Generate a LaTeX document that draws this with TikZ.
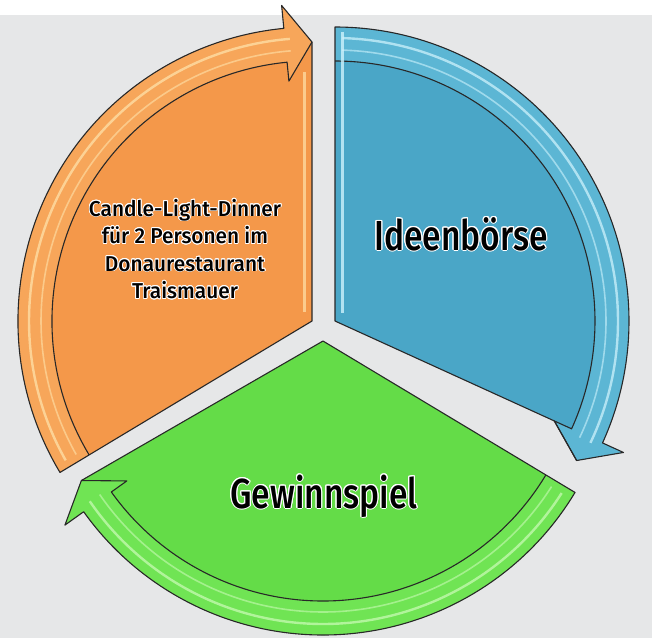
\documentclass[tikz,border=0pt]{standalone}
\usepackage{fontspec}
\usepackage{contour}
\usetikzlibrary{calc}
\newfontfamily\bigfont{Fira Sans Medium}[FakeStretch=0.8]
\newfontfamily\smallfont{Fira Sans Medium}[FakeStretch=0.97]
\definecolor{bg}{RGB}{230,231,232}
\definecolor{outl}{RGB}{40,40,40}
\definecolor{orbody}{RGB}{244,152,74}
\definecolor{orband}{RGB}{247,166,90}
\definecolor{orhl}{RGB}{255,226,170}
\definecolor{blbody}{RGB}{74,166,199}
\definecolor{blband}{RGB}{92,182,212}
\definecolor{blhl}{RGB}{205,242,252}
\definecolor{grbody}{RGB}{100,220,72}
\definecolor{grband}{RGB}{112,228,84}
\definecolor{grhl}{RGB}{200,250,180}
\newcommand{\petal}[8]{%
  \fill[#5] (#1) -- ($(#1)+({#2}:294)$) arc[start angle=#2,end angle=#3,radius=294]
     -- ($(#1)+({#3}:317)$) -- ($(#1)+({#4}:279)$) #8;
  \fill[#6] ($(#1)+({#2}:294)$) arc[start angle=#2,end angle=#3,radius=294]
     -- ($(#1)+({#3}:317)$) -- ($(#1)+({#4}:279)$) -- ($(#1)+({#3}:241)$)
     -- ($(#1)+({#3}:260)$) arc[start angle=#3,end angle=#2,radius=260] -- cycle;
  \draw[#7, line width=2.4pt, opacity=.75] ($(#1)+({#2+1.5}:283)$)
     arc[start angle=#2+1.5,end angle=#3+1,radius=283];
  \draw[#7, line width=1.6pt, opacity=.6] ($(#1)+({#2+1.5}:271)$)
     arc[start angle=#2+1.5,end angle=#3+1,radius=271];
  \draw[outl] (#1) -- ($(#1)+({#2}:294)$) arc[start angle=#2,end angle=#3,radius=294]
     -- ($(#1)+({#3}:317)$) -- ($(#1)+({#4}:279)$) #8;
  \draw[outl] ($(#1)+({#2}:260)$) arc[start angle=#2,end angle=#3,radius=260]
     -- ($(#1)+({#3}:241)$) -- ($(#1)+({#4}:279)$);
}
\begin{document}
\begin{tikzpicture}[x=1pt,y=-1pt,
  outl/.style={draw=outl, line width=1.1pt, line join=round},
  bigtxt/.style={anchor=base, inner sep=0pt, font=\bigfont\fontsize{42}{42}\selectfont},
  smtxt/.style={anchor=base, inner sep=0pt, font=\smallfont\fontsize{21.5}{26}\selectfont}]
\useasboundingbox (0,0) rectangle (652,638);
\fill[white] (0,0) rectangle (652,638);
\fill[bg] (0,15) rectangle (652,638);
\coordinate (B) at (335,321);
\coordinate (G) at (323,341);
\coordinate (O) at (312,321);
% orange
\petal{O}{149}{264.5}{270}{orbody}{orband}{orhl}{-- cycle}
\draw[orhl, line width=3pt, opacity=.7] (304,72) -- (304,312);
% blue
\petal{B}{-90}{24.5}{30}{blbody}{blband}{blhl}{-- ($(B)+(24.5:241)$) -- cycle}
\draw[blhl, line width=3pt, opacity=.8] (342,32) -- (342,313);
% green
\petal{G}{31}{144.5}{150}{grbody}{grband}{grhl}{-- cycle}
% texts
\contourlength{1pt}
\node[bigtxt] (ideen) at (461,250) {\contour{white}{Ideenbörse}};
\node[bigtxt] (gewinn) at (324,508) {\contour{white}{Gewinnspiel}};
\contourlength{0.8pt}
\node[smtxt] (l1) at (185,216) {\contour{white}{Candle-Light-Dinner}};
\node[smtxt] (l2) at (185,243.5) {\contour{white}{für 2 Personen im}};
\node[smtxt] (l3) at (185,271) {\contour{white}{Donaurestaurant}};
\node[smtxt] (l4) at (185,298.5) {\contour{white}{Traismauer}};
\end{tikzpicture}
\end{document}
